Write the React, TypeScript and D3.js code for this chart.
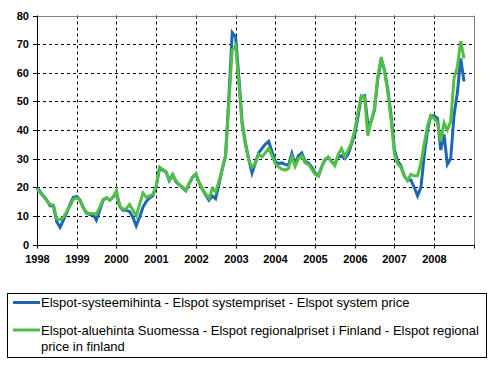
import React from 'react';
import * as d3 from 'd3';

// monthly averages, Jan 1998 .. Oct 2008 (EUR/MWh)
const systemPrice = [
  20, 18.3, 17, 15.5, 13.5, 13.5, 8, 6, 8.5, 11, 14, 16.5,
  16.8, 15.5, 13, 11, 10.5, 10.5, 8.5, 12, 15.5, 16.3, 15.5, 16.5,
  18, 13.3, 12, 12, 11.5, 9.5, 6.5, 9.5, 13, 15, 16.3, 17,
  20.3, 26.8, 26, 25.3, 22.3, 24.3, 22, 20.8, 19.8, 18.8, 21.3, 23.5,
  24.5, 21.5, 19.3, 17.3, 15.5, 17, 16, 21, 26.5, 31, 52, 74,
  72.5, 58, 43, 35.5, 30, 25, 28.5, 32, 33.6, 35, 36, 32.5,
  29, 28.3, 28.5, 28, 27.7, 31.8, 28, 31, 32, 29, 28.5, 27,
  25, 24, 27, 29.5, 30.5, 29, 28, 30.5, 31, 30, 31.5, 35,
  38.5, 45, 51.5, 52, 42, 43, 47, 58, 64.5, 61, 54, 45,
  33, 29, 27.5, 24, 22.5, 22.5, 20, 17, 20, 31, 40, 45,
  45, 44, 33, 38.5, 28, 30, 45, 53, 65, 57,
];

const regionalPrice = [
  19.5, 18, 16.8, 15.3, 14, 13.8, 9, 8.7, 9.5, 11.5, 13.5, 15.8,
  16.3, 15.5, 13, 11.2, 10.8, 10.8, 10.6, 13, 15.8, 16.3, 15.5, 16.5,
  18.8, 13.5, 12.3, 12.5, 14, 12, 10, 14, 18, 16.5, 17, 17.5,
  20.5, 27, 26.3, 25.5, 22.5, 24.5, 22.3, 21, 20, 19, 21.5, 23.5,
  24.8, 21.5, 19.5, 17.7, 16.2, 19.5, 18.4, 22, 26.5, 31, 50, 68,
  69.5, 56, 42, 35, 29.5, 27, 28.3, 31.5, 30.6, 32, 33.6, 31,
  28.3, 27.1, 26.3, 26, 26.5, 30.6, 27.3, 30, 31, 28.5, 28, 26.3,
  24.5, 23.8, 27, 29.8, 30.5, 29, 27.5, 31.5, 33.5, 30.7, 33, 35.5,
  40, 46.5, 52, 51.5, 38, 43, 47.5, 59, 65.5, 60.5, 53, 43.5,
  31.5, 28, 27, 23.8, 22.3, 24.5, 24, 24, 28.5, 35, 41.5, 45,
  44, 42.5, 36, 42.5, 40, 43, 58, 62, 71, 65,
];

const months = systemPrice.map((_, i) => new Date(1998, i, 1));
const yearTicks = d3.range(1998, 2009);
const yTicks = [0, 10, 20, 30, 40, 50, 60, 70, 80];

const legendItems = [
  { color: '#1d66b1', lines: ['Elspot-systeemihinta - Elspot systempriset - Elspot system price'] },
  {
    color: '#50bf44',
    lines: [
      'Elspot-aluehinta Suomessa - Elspot regionalpriset i Finland - Elspot regional',
      'price in finland',
    ],
  },
];

export default function App() {
  const left = 37, right = 474, top = 15.5, bottom = 244.5;

  const x = d3.scaleTime()
    .domain([new Date(1998, 0, 1), new Date(2009, 0, 1)])
    .range([left, right]);
  const y = d3.scaleLinear().domain([0, 80]).range([bottom, top]);

  const line = d3.line<number>()
    .x((_, i) => x(months[i]))
    .y((d) => y(d));

  const font = 'Arial, "Liberation Sans", sans-serif';

  return (
    <svg width={493} height={366} style={{ position: 'absolute', left: 0, top: 0, background: '#fff' }}>
      {/* grid */}
      {yTicks.slice(1, -1).map((t) => (
        <line key={'h' + t} x1={left} x2={right} y1={Math.round(y(t)) + 0.5} y2={Math.round(y(t)) + 0.5}
          stroke="#000" strokeDasharray="3,3" />
      ))}
      {yearTicks.slice(1).map((yr) => {
        const xx = Math.round(x(new Date(yr, 0, 1))) + 0.5;
        return <line key={'v' + yr} x1={xx} x2={xx} y1={top} y2={bottom} stroke="#000" strokeDasharray="3,3" />;
      })}

      {/* frame */}
      <line x1={left} x2={right} y1={Math.round(top) + 0.5} y2={Math.round(top) + 0.5} stroke="#808080" />
      <line x1={right + 0.5} x2={right + 0.5} y1={top} y2={bottom} stroke="#808080" />
      <line x1={left + 0.5} x2={left + 0.5} y1={top} y2={bottom} stroke="#000" />
      <line x1={left} x2={right + 1} y1={Math.round(bottom) + 0.5} y2={Math.round(bottom) + 0.5} stroke="#000" />

      {/* y axis */}
      {yTicks.map((t) => (
        <g key={'y' + t}>
          <line x1={left - 4} x2={left} y1={Math.round(y(t)) + 0.5} y2={Math.round(y(t)) + 0.5} stroke="#000" />
          <text x={29} y={y(t)} textAnchor="end" dominantBaseline="central"
            fontFamily={font} fontSize={11} fontWeight="bold">{t}</text>
        </g>
      ))}

      {/* x axis */}
      {[...yearTicks, 2009].map((yr) => {
        const xx = Math.round(x(new Date(yr, 0, 1))) + 0.5;
        return (
          <g key={'x' + yr}>
            <line x1={xx} x2={xx} y1={bottom} y2={bottom + 4} stroke="#000" />
            {yr < 2009 && (
              <text x={xx} y={259} textAnchor="middle" dominantBaseline="central"
                fontFamily={font} fontSize={11} fontWeight="bold">{yr}</text>
            )}
          </g>
        );
      })}

      {/* series */}
      <path d={line(systemPrice) ?? ''} fill="none" stroke="#1d66b1" strokeWidth={3} />
      <path d={line(regionalPrice) ?? ''} fill="none" stroke="#50bf44" strokeWidth={3} />

      {/* legend */}
      <rect x={7.5} y={293.5} width={479} height={64} fill="none" stroke="#000" />
      {legendItems.map((item, i) => {
        const ly = i === 0 ? 302.5 : 330;
        return (
          <g key={'l' + i}>
            <line x1={13} x2={40} y1={ly} y2={ly} stroke={item.color} strokeWidth={3} />
            {item.lines.map((t, j) => (
              <text key={j} x={41} y={ly + j * 16.5} dominantBaseline="central"
                fontFamily={font} fontSize={13}>{t}</text>
            ))}
          </g>
        );
      })}
    </svg>
  );
}
